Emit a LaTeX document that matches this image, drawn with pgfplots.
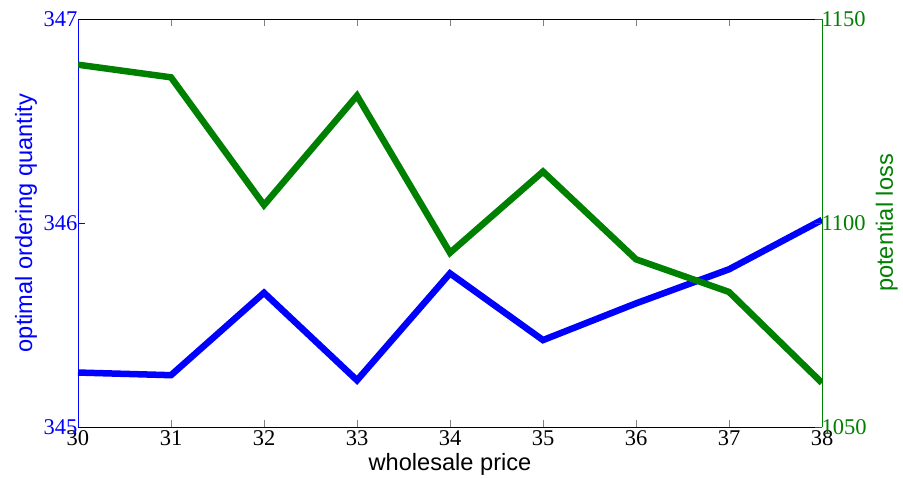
\documentclass[border=0pt]{standalone}
\usepackage{fontspec}
\setmainfont{Liberation Serif}
\setsansfont{Liberation Sans}
\usepackage{pgfplots}
\pgfplotsset{compat=1.18}
\definecolor{mblue}{rgb}{0,0,1}
\definecolor{mgreen}{rgb}{0,0.5,0}
\begin{document}
\begin{tikzpicture}
\pgfplotsset{
  every axis/.append style={
    scale only axis, width=744bp, height=408bp,
    xmin=30, xmax=38,
    /pgf/number format/assume math mode=true,
    /pgf/number format/1000 sep={},
    tick align=inside, major tick length=7bp,
    tick label style={font=\fontsize{22.5bp}{27bp}\selectfont},
    label style={font=\sffamily\fontsize{23.6bp}{28bp}\selectfont},
  },
}
\begin{axis}[name=ax1,
  ymin=345, ymax=347, ytick={345,346,347},
  xtick={30,...,38}, xtick pos=both, xticklabel pos=bottom,
  axis y line*=left,
  y axis line style={mblue},
  ytick style={mblue},
  yticklabel style={mblue, xshift=3bp},
  xlabel={wholesale price},
  xlabel style={at={(axis description cs:0.5,0)}, anchor=base, yshift=-43bp},
  ylabel={optimal ordering quantity},
  ylabel style={mblue, at={(axis description cs:-0.0618,0.5)}, anchor=base},
]
\addplot[mblue, line width=6.5bp, line join=miter] coordinates {
(30,345.267)(31,345.254)(32,345.658)(33,345.229)(34,345.753)(35,345.426)(36,345.606)(37,345.773)(38,346.015)};
\end{axis}
\begin{axis}[
  ymin=1050, ymax=1150, ytick={1050,1100,1150},
  axis y line*=right, axis x line=none,
  y axis line style={mgreen}, ytick style={mgreen},
  yticklabel style={mgreen, xshift=-4bp},
  ylabel={potential loss},
  ylabel style={mgreen, at={(axis description cs:1.0954,0.5)}, anchor=base},
]
\addplot[mgreen, line width=6.5bp, line join=miter] coordinates {
(30,1138.8)(31,1135.7)(32,1104.4)(33,1131.2)(34,1092.7)(35,1112.6)(36,1091.1)(37,1083.1)(38,1060.8)};
\end{axis}
\pgfresetboundingbox
\path[use as bounding box] ([shift={(-78bp,-52bp)}]ax1.south west) rectangle ([shift={(81bp,19bp)}]ax1.north east);
\end{tikzpicture}
\end{document}
